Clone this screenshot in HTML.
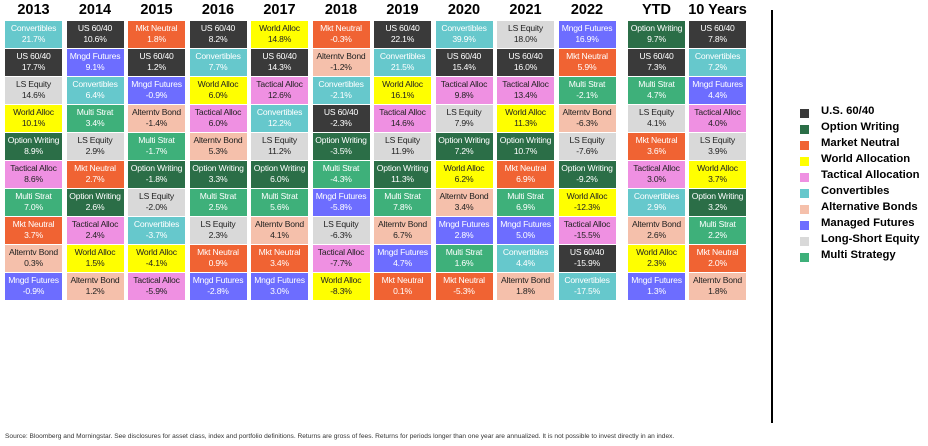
<!DOCTYPE html>
<html><head><meta charset="utf-8"><style>
body{margin:0;width:928px;height:446px;background:#fff;font-family:"Liberation Sans",sans-serif;position:relative;overflow:hidden}
.h{position:absolute;top:2px;width:60px;text-align:center;font-weight:bold;font-size:14.5px;color:#000}
.c{position:absolute;width:57px;height:27px;text-align:center;font-size:8.6px;line-height:11px;box-sizing:border-box;padding-top:2px;letter-spacing:-0.2px}
.lg{position:absolute;left:800px;width:9px;height:9px}
.lt{position:absolute;left:821px;font-weight:bold;font-size:11.3px;color:#000}
</style></head><body>
<div style="position:absolute;left:771px;top:10px;width:2px;height:413px;background:#000"></div>
<div style="position:absolute;left:5px;top:433px;font-size:6.6px;color:#333;white-space:nowrap">Source: Bloomberg and Morningstar. See disclosures for asset class, index and portfolio definitions. Returns are gross of fees. Returns for periods longer than one year are annualized. It is not possible to invest directly in an index.</div>
<div id="chart"></div>
<script>
const headers=["2013","2014","2015","2016","2017","2018","2019","2020","2021","2022","YTD","10 Years"];
const colNames=[
["Convertibles","US 60/40","LS Equity","World Alloc","Option Writing","Tactical Alloc","Multi Strat","Mkt Neutral","Alterntv Bond","Mngd Futures"],
["US 60/40","Mngd Futures","Convertibles","Multi Strat","LS Equity","Mkt Neutral","Option Writing","Tactical Alloc","World Alloc","Alterntv Bond"],
["Mkt Neutral","US 60/40","Mngd Futures","Alterntv Bond","Multi Strat","Option Writing","LS Equity","Convertibles","World Alloc","Tactical Alloc"],
["US 60/40","Convertibles","World Alloc","Tactical Alloc","Alterntv Bond","Option Writing","Multi Strat","LS Equity","Mkt Neutral","Mngd Futures"],
["World Alloc","US 60/40","Tactical Alloc","Convertibles","LS Equity","Option Writing","Multi Strat","Alterntv Bond","Mkt Neutral","Mngd Futures"],
["Mkt Neutral","Alterntv Bond","Convertibles","US 60/40","Option Writing","Multi Strat","Mngd Futures","LS Equity","Tactical Alloc","World Alloc"],
["US 60/40","Convertibles","World Alloc","Tactical Alloc","LS Equity","Option Writing","Multi Strat","Alterntv Bond","Mngd Futures","Mkt Neutral"],
["Convertibles","US 60/40","Tactical Alloc","LS Equity","Option Writing","World Alloc","Alterntv Bond","Mngd Futures","Multi Strat","Mkt Neutral"],
["LS Equity","US 60/40","Tactical Alloc","World Alloc","Option Writing","Mkt Neutral","Multi Strat","Mngd Futures","Convertibles","Alterntv Bond"],
["Mngd Futures","Mkt Neutral","Multi Strat","Alterntv Bond","LS Equity","Option Writing","World Alloc","Tactical Alloc","US 60/40","Convertibles"],
["Option Writing","US 60/40","Multi Strat","LS Equity","Mkt Neutral","Tactical Alloc","Convertibles","Alterntv Bond","World Alloc","Mngd Futures"],
["US 60/40","Convertibles","Mngd Futures","Tactical Alloc","LS Equity","World Alloc","Option Writing","Multi Strat","Mkt Neutral","Alterntv Bond"]];
const colValues=[
[21.7,17.7,14.6,10.1,8.9,8.6,7.0,3.7,0.3,-0.9],
[10.6,9.1,6.4,3.4,2.9,2.7,2.6,2.4,1.5,1.2],
[1.8,1.2,-0.9,-1.4,-1.7,-1.8,-2.0,-3.7,-4.1,-5.9],
[8.2,7.7,6.0,6.0,5.3,3.3,2.5,2.3,0.9,-2.8],
[14.8,14.3,12.6,12.2,11.2,6.0,5.6,4.1,3.4,3.0],
[-0.3,-1.2,-2.1,-2.3,-3.5,-4.3,-5.8,-6.3,-7.7,-8.3],
[22.1,21.5,16.1,14.6,11.9,11.3,7.8,6.7,4.7,0.1],
[39.9,15.4,9.8,7.9,7.2,6.2,3.4,2.8,1.6,-5.3],
[18.0,16.0,13.4,11.3,10.7,6.9,6.9,5.0,4.4,1.8],
[16.9,5.9,-2.1,-6.3,-7.6,-9.2,-12.3,-15.5,-15.9,-17.5],
[9.7,7.3,4.7,4.1,3.6,3.0,2.9,2.6,2.3,1.3],
[7.8,7.2,4.4,4.0,3.9,3.7,3.2,2.2,2.0,1.8]];
const legendLabels=["U.S. 60/40","Option Writing","Market Neutral","World Allocation","Tactical Allocation","Convertibles","Alternative Bonds","Managed Futures","Long-Short Equity","Multi Strategy"];
const sty={"US 60/40":["#3a3a3a","#fff"],"Option Writing":["#2b6e47","#fff"],"Mkt Neutral":["#f06333","#fff"],"World Alloc":["#ffff00","#222"],"Tactical Alloc":["#ef90e2","#222"],"Convertibles":["#66c8cc","#fff"],"Alterntv Bond":["#f5c0ab","#222"],"Mngd Futures":["#6d6dff","#fff"],"LS Equity":["#d9d9d9","#222"],"Multi Strat":["#3eb07a","#fff"]};
const legKeys=["US 60/40","Option Writing","Mkt Neutral","World Alloc","Tactical Alloc","Convertibles","Alterntv Bond","Mngd Futures","LS Equity","Multi Strat"];
const colX=i=>i<10?5+i*61.5:(i==10?628:689);
const rowY=r=>21+r*28;
const root=document.getElementById('chart');
headers.forEach((h,i)=>{
 const d=document.createElement('div');d.className='h';
 
 
 d.style.left=(colX(i)-1.5)+'px';d.textContent=h;root.appendChild(d);
 colNames[i].forEach((n,r)=>{
  const c=document.createElement('div');c.className='c';
  
  
  const s=sty[n];c.style.left=colX(i)+'px';c.style.top=rowY(r)+'px';
  c.style.background=s[0];c.style.color=s[1];
  c.innerHTML=n+'<br>'+colValues[i][r].toFixed(1)+'%';root.appendChild(c);
 });
});
legendLabels.forEach((l,k)=>{
 const sq=document.createElement('div');sq.className='lg';
 
 
 sq.style.top=(109+k*16)+'px';sq.style.background=sty[legKeys[k]][0];root.appendChild(sq);
 const t=document.createElement('div');t.className='lt';
 
 
 t.style.top=(105+k*16)+'px';t.textContent=l;root.appendChild(t);
});
</script>
</body></html>
